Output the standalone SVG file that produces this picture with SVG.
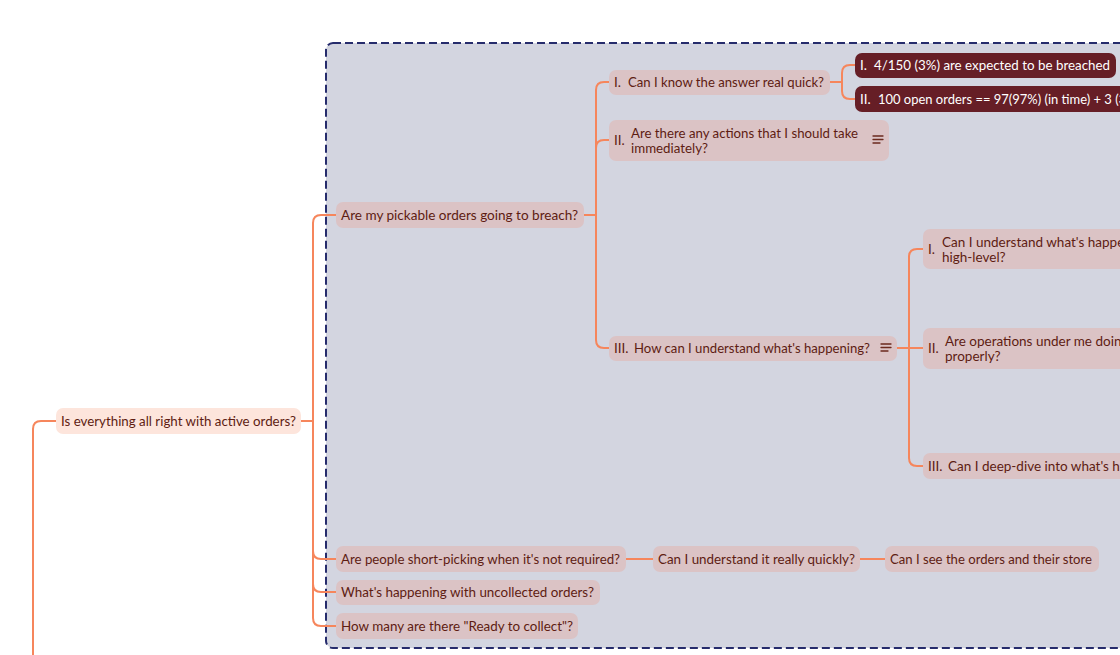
<svg xmlns="http://www.w3.org/2000/svg" width="1120" height="655" viewBox="0 0 1120 655">
<style>
.t{font-family:Lato,"Open Sans","Liberation Sans",sans-serif;font-size:13.5px;fill:#5e1c12}
.w{font-family:Lato,"Open Sans","Liberation Sans",sans-serif;font-size:13.5px;fill:#ffffff}
.n{fill:#dbc3c5}
.d{fill:#661e26}
.c{fill:none;stroke:#f6865c;stroke-width:2}
.ic{stroke:#6b2a1e;stroke-width:1.3;stroke-linecap:round}
</style>
<rect width="1120" height="655" fill="#ffffff"/>
<g id="boundary">
<rect x="326" y="43" width="820" height="605" rx="7" fill="#d3d5e0" stroke="#262c6c" stroke-width="2" stroke-dasharray="8,4"/>
</g>
<g id="connectors" class="c">
<path d="M56,421 H41 Q33,421 33,429 V655"/>
<path d="M301,421 H313"/>
<path d="M313,421 V223 Q313,215 321,215 H336"/>
<path d="M313,421 V551 Q313,559 321,559 H336"/>
<path d="M313,421 V584 Q313,592 321,592 H336"/>
<path d="M313,421 V618 Q313,626 321,626 H336"/>
<path d="M584,215 H596"/>
<path d="M596,215 V90 Q596,82 604,82 H609"/>
<path d="M596,215 V148 Q596,140 604,140 H609"/>
<path d="M596,215 V340 Q596,348 604,348 H609"/>
<path d="M830,82 H842"/>
<path d="M842,82 V73 Q842,65 850,65 H855"/>
<path d="M842,82 V91 Q842,99 850,99 H855"/>
<path d="M897,348 H923"/>
<path d="M909,348 V257 Q909,249 917,249 H923"/>
<path d="M909,348 V458 Q909,466 917,466 H923"/>
<path d="M626,559 H653"/>
<path d="M860,559 H885"/>
</g>
<g id="root">
<rect x="56" y="408" width="245" height="26" rx="7" fill="#fde5dc"/>
<text class="t" x="61" y="426" textLength="235" lengthAdjust="spacingAndGlyphs">Is everything all right with active orders?</text>
</g>
<g id="pickable">
<rect class="n" x="336" y="202" width="248" height="26" rx="7"/>
<text class="t" x="341" y="220" textLength="237" lengthAdjust="spacingAndGlyphs">Are my pickable orders going to breach?</text>
</g>
<g id="quick">
<rect class="n" x="609" y="70" width="221" height="25" rx="7"/>
<text class="t" x="614" y="87">I.</text>
<text class="t" x="628" y="87" textLength="196" lengthAdjust="spacingAndGlyphs">Can I know the answer real quick?</text>
</g>
<g id="expected">
<rect class="d" x="855" y="53" width="261" height="25" rx="7"/>
<text class="w" x="860" y="70">I.</text>
<text class="w" x="874" y="70" textLength="236" lengthAdjust="spacingAndGlyphs">4/150 (3%) are expected to be breached</text>
</g>
<g id="open-orders">
<rect class="d" x="855" y="86" width="290" height="26" rx="7"/>
<text class="w" x="860" y="104">II.</text>
<text class="w" x="878" y="104" textLength="262" lengthAdjust="spacingAndGlyphs">100 open orders == 97(97%) (in time) + 3 (3%)</text>
</g>
<g id="actions">
<rect class="n" x="609" y="120" width="280" height="41" rx="7"/>
<text class="t" x="614" y="145">II.</text>
<text class="t" x="631" y="138" textLength="227" lengthAdjust="spacingAndGlyphs">Are there any actions that I should take</text>
<text class="t" x="631" y="153" textLength="77" lengthAdjust="spacingAndGlyphs">immediately?</text>
<path class="ic" d="M873,136 H883 M873,139.5 H883 M873,143 H880"/>
</g>
<g id="understand">
<rect class="n" x="609" y="336" width="288" height="25" rx="7"/>
<text class="t" x="614" y="353">III.</text>
<text class="t" x="634" y="353" textLength="236" lengthAdjust="spacingAndGlyphs">How can I understand what's happening?</text>
<path class="ic" d="M881,344 H891 M881,347.5 H891 M881,351 H888"/>
</g>
<g id="high-level">
<rect class="n" x="923" y="229" width="220" height="40" rx="7"/>
<text class="t" x="928" y="254">I.</text>
<text class="t" x="942" y="247">Can I understand what's happening</text>
<text class="t" x="942" y="262">high-level?</text>
</g>
<g id="operations">
<rect class="n" x="923" y="328" width="220" height="41" rx="7"/>
<text class="t" x="928" y="353">II.</text>
<text class="t" x="945" y="346">Are operations under me doing</text>
<text class="t" x="945" y="361">properly?</text>
</g>
<g id="deep-dive">
<rect class="n" x="923" y="453" width="220" height="26" rx="7"/>
<text class="t" x="928" y="471">III.</text>
<text class="t" x="948" y="471">Can I deep-dive into what's happening?</text>
</g>
<g id="short-picking">
<rect class="n" x="336" y="546" width="290" height="26" rx="7"/>
<text class="t" x="341" y="564" textLength="279" lengthAdjust="spacingAndGlyphs">Are people short-picking when it's not required?</text>
</g>
<g id="really-quickly">
<rect class="n" x="653" y="546" width="207" height="26" rx="7"/>
<text class="t" x="658" y="564" textLength="197" lengthAdjust="spacingAndGlyphs">Can I understand it really quickly?</text>
</g>
<g id="see-orders">
<rect class="n" x="885" y="546" width="214" height="26" rx="7"/>
<text class="t" x="890" y="564" textLength="202" lengthAdjust="spacingAndGlyphs">Can I see the orders and their store</text>
</g>
<g id="uncollected">
<rect class="n" x="336" y="580" width="264" height="25" rx="7"/>
<text class="t" x="341" y="597" textLength="253" lengthAdjust="spacingAndGlyphs">What's happening with uncollected orders?</text>
</g>
<g id="ready">
<rect class="n" x="336" y="613" width="242" height="26" rx="7"/>
<text class="t" x="341" y="631" textLength="232" lengthAdjust="spacingAndGlyphs">How many are there "Ready to collect"?</text>
</g>
</svg>
